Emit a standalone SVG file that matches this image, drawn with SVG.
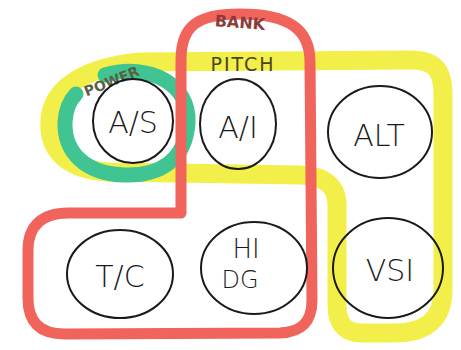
<svg xmlns="http://www.w3.org/2000/svg" width="461" height="350" viewBox="0 0 461 350">
<style>
.bg{fill:#ffffff}
.hl{fill:none;stroke-linecap:round;stroke-linejoin:round}
.yel{stroke:#f3ef4a;stroke-width:19}
.grn{stroke:#3fc492;stroke-width:15}
.red{stroke:#f0645c;stroke-width:11}
.ring{fill:none;stroke:#1a1a1a;stroke-width:2}
.lbl{font-family:"DejaVu Sans",sans-serif;fill:#1a1a1a;text-anchor:middle;font-weight:300}
.grp{font-family:"DejaVu Sans",sans-serif;text-anchor:middle}
.bold{font-weight:bold}
</style>
<rect class="bg" x="0" y="0" width="461" height="350"/>
<g id="groupings">
<path id="pitch-loop" class="hl yel" d="M 300 175 L 110 172 C 62 170 48 146 50 120 C 52 90 80 68 140 62 L 410 60 C 435 60 443 70 443 95 L 443 290 C 443 320 425 333 395 333 L 362 333 C 343 333 337 321 337 305 L 337 205 C 337 186 325 176 300 175 Z"/>
<path id="power-loop" class="hl grn" d="M 105 75 C 150 62 190 85 188 122 C 186 160 160 176 125 175 C 85 174 64 152 65 122 C 66 108 70 100 76 94"/>
<path id="bank-loop" class="hl red" d="M 181 213 L 181 60 C 181 26 197 14 240 14 C 290 14 310 30 310 62 L 312 300 C 312 324 300 332 280 333 L 65 334 C 38 334 28 320 28 298 L 28 250 C 28 226 42 213 68 213 Z"/>
<text class="grp bold" x="240" y="28" font-size="16" fill="#8f3a3a" transform="rotate(4 240 22)">BANK</text>
<text class="grp" x="243" y="71" font-size="19" fill="#4a4520" letter-spacing="2">PITCH</text>
<text class="grp bold" x="112" y="86" font-size="14" fill="#5a6040" transform="rotate(-22 112 82)">POWER</text>
</g>
<g id="node-as"><ellipse class="ring" cx="133" cy="121" rx="40" ry="42"/><text class="lbl" x="133" y="133" font-size="30">A/S</text></g>
<g id="node-ai"><ellipse class="ring" cx="238" cy="124" rx="38" ry="45"/><text class="lbl" x="238" y="138" font-size="30">A/I</text></g>
<g id="node-alt"><ellipse class="ring" cx="380" cy="132" rx="52" ry="46"/><text class="lbl" x="379" y="146" font-size="30">ALT</text></g>
<g id="node-tc"><ellipse class="ring" cx="120" cy="274" rx="53" ry="44"/><text class="lbl" x="120" y="287" font-size="30">T/C</text></g>
<g id="node-hdg"><ellipse class="ring" cx="254" cy="268" rx="53" ry="46"/><text class="lbl" x="246" y="258" font-size="26">HI</text><text class="lbl" x="240" y="288" font-size="24">DG</text></g>
<g id="node-vsi"><ellipse class="ring" cx="388" cy="268" rx="55" ry="50"/><text class="lbl" x="390" y="281" font-size="30">VSI</text></g>
</svg>
